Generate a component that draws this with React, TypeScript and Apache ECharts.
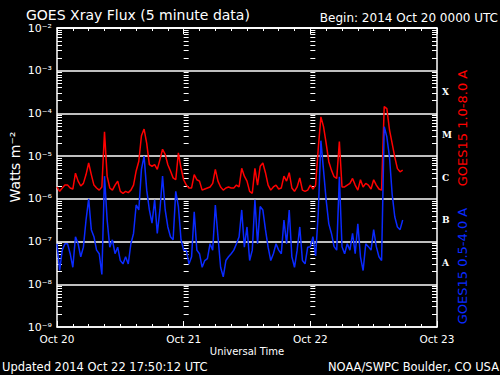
import { useEffect, useRef } from "react";
import * as echarts from "echarts";

// Sampling of the two GOES-15 channels (hours since 2014 Oct 20 00:00 UTC)
const sampleStartHour = 0;
const sampleStepHours = 0.5;

const dayLabels = ["Oct 20", "Oct 21", "Oct 22", "Oct 23"];
const classLetters = ["X", "M", "C", "B", "A"];
const classCenters = [-3.5, -4.5, -5.5, -6.5, -7.5];

// GOES15 1.0-8.0 A (W m^-2)
const redFlux = [
  1.9e-6, 1.5e-6, 1.8e-6, 2.1e-6, 2.1e-6, 1.8e-6, 1.7e-6, 4.0e-6, 2.6e-6, 2.0e-6,
  2.3e-6, 3.7e-6, 6.9e-6, 3.7e-6, 2.1e-6, 1.8e-6, 1.6e-6, 1.9e-6, 3.7e-5, 3.4e-6,
  1.8e-6, 1.6e-6, 2.1e-6, 2.6e-6, 1.5e-6, 1.35e-6, 1.5e-6, 1.4e-6, 1.6e-6, 2.1e-6,
  4.5e-6, 7.6e-6, 3.0e-5, 4.3e-5, 2.0e-5, 6.3e-6, 5.8e-6, 6.3e-6, 4.9e-6, 8.3e-6,
  1.45e-5, 1.1e-5, 6.3e-6, 4.5e-6, 3.1e-6, 2.8e-6, 1.2e-5, 5.2e-6,
  2.8e-6, 2.1e-6, 1.8e-6, 1.8e-6, 3.7e-6, 2.8e-6, 2.6e-6, 1.6e-6, 1.7e-6, 1.8e-6,
  1.9e-6, 2.3e-6, 4.9e-6, 2.6e-6, 1.9e-6, 1.6e-6, 1.8e-6, 1.9e-6, 1.8e-6, 1.8e-6,
  2.1e-6, 1.9e-6, 5.2e-6, 3.4e-6, 2.6e-6, 1.5e-6, 1.35e-6, 5.2e-6, 2.1e-6, 5.8e-6,
  6.9e-6, 4.1e-6, 2.1e-6, 1.6e-6, 1.9e-6, 2.1e-6, 1.7e-6, 1.8e-6, 3.4e-6, 2.6e-6,
  4.1e-6, 1.8e-6, 1.5e-6, 1.9e-6, 3.1e-6, 1.6e-6, 1.5e-6, 1.6e-6,
  2.1e-6, 1.7e-6, 2.1e-6, 1.5e-5, 8.3e-5, 4.9e-5, 2.0e-5, 7.4e-6, 4.7e-6, 3.3e-6,
  3.0e-6, 2.2e-5, 1.9e-6, 1.9e-6, 2.1e-6, 2.3e-6, 3.0e-6, 2.1e-6, 1.6e-6, 2.8e-6,
  1.9e-6, 2.3e-6, 2.1e-6, 1.7e-6, 2.8e-6, 2.1e-6, 1.7e-6, 1.6e-6, 1.45e-4, 1.3e-4,
  4.1e-5, 2.0e-5, 9.5e-6, 5.1e-6, 4.3e-6, 4.7e-6,
];

// GOES15 0.5-4.0 A (W m^-2)
const blueFlux = [
  8.9e-8, 2.1e-8, 6.3e-8, 8.9e-8, 8.9e-8, 5.2e-8, 2.5e-8, 1.3e-7, 8.9e-8, 4.4e-8,
  7.4e-8, 3.2e-7, 1.0e-6, 1.9e-7, 1.3e-7, 6.3e-8, 5.2e-8, 1.7e-8, 3.4e-6, 3.2e-7,
  7.4e-8, 1.1e-7, 5.2e-8, 7.4e-8, 3.6e-8, 3.0e-8, 4.4e-8, 3.0e-8, 8.9e-8, 1.55e-7,
  7.2e-7, 5.5e-7, 4.9e-6, 1.0e-5, 1.6e-6, 5.5e-7, 2.7e-7, 9.5e-7, 1.55e-7, 5.5e-7,
  3.4e-6, 5.5e-7, 2.2e-7, 1.3e-7, 1.1e-7, 1.5e-6, 6.6e-7, 1.1e-7,
  6.3e-8, 6.3e-8, 3.0e-8, 4.4e-8, 5.0e-7, 6.3e-8, 5.2e-8, 2.5e-8, 3.6e-8, 4.0e-8,
  8.9e-8, 6.3e-8, 7.2e-7, 1.3e-7, 2.5e-8, 1.5e-8, 3.6e-8, 4.4e-8, 5.2e-8, 6.3e-8,
  8.9e-8, 1.3e-7, 5.5e-7, 7.4e-8, 2.2e-7, 3.6e-8, 6.3e-8, 9.5e-7, 8.9e-8, 6.6e-7,
  5.5e-7, 1.9e-7, 7.4e-8, 3.6e-8, 5.2e-8, 8.9e-8, 6.3e-8, 5.2e-8, 3.2e-7, 8.9e-8,
  5.5e-7, 4.4e-8, 2.5e-8, 6.3e-8, 2.2e-7, 3.6e-8, 3.0e-8, 7.4e-8,
  7.6e-8, 1.3e-7, 4.6e-8, 4.6e-7, 2.3e-5, 4.7e-6, 9.3e-7, 2.6e-7, 1.55e-7, 7.6e-8,
  6.3e-8, 3.3e-6, 7.6e-8, 5.2e-8, 8.9e-8, 6.3e-8, 1.55e-7, 5.2e-8, 2.6e-7, 4.4e-8,
  2.1e-8, 8.9e-8, 7.6e-8, 6.3e-8, 1.9e-7, 7.6e-8, 4.4e-8, 3.6e-8, 4.9e-5, 2.8e-5,
  9.5e-6, 1.3e-6, 3.8e-7, 2.2e-7, 1.9e-7, 3.2e-7,
];

const SUP: Record<string, string> = {
  "-": "\u207B", "0": "\u2070", "1": "\u00B9", "2": "\u00B2", "3": "\u00B3",
  "4": "\u2074", "5": "\u2075", "6": "\u2076", "7": "\u2077", "8": "\u2078", "9": "\u2079",
};
const sup = (s: string) => s.split("").map((c) => SUP[c] ?? c).join("");

const FONT = "DejaVu Sans";
const RED = "#ff0000";
const BLUE = "#0a2aff";

export default function App() {
  const ref = useRef<HTMLDivElement>(null);

  useEffect(() => {
    if (!ref.current) return;
    const chart = echarts.init(ref.current, undefined, { renderer: "svg" });

    const toPairs = (arr: number[]) =>
      arr.map((v, i) => [sampleStartHour + i * sampleStepHours, v]);

    const minorLogs: number[] = [];
    for (let n = -9; n < -2; n++) {
      for (let k = 2; k <= 9; k++) minorLogs.push(n + Math.log10(k));
    }

    const gridLeft = 57;
    const gridWidth = 380;

    const tickAxis = (extra: any) => ({
      type: "value",
      min: -9,
      max: -2,
      axisLine: { show: false },
      axisLabel: { show: false },
      splitLine: { show: false },
      axisTick: {
        show: true,
        inside: true,
        length: 5,
        customValues: minorLogs,
        lineStyle: { color: "#ffffff", width: 1 },
      },
      ...extra,
    });

    const xCommon = {
      type: "value",
      min: 0,
      max: 72,
      interval: 24,
      splitLine: { show: false },
      axisLine: { show: true, lineStyle: { color: "#ffffff", width: 1.5 } },
      axisTick: { show: true, inside: true, length: 6, lineStyle: { color: "#ffffff" } },
      minorTick: { show: true, splitNumber: 8, length: 3, lineStyle: { color: "#ffffff" } },
      minorSplitLine: { show: false },
    };

    chart.setOption({
      animation: false,
      backgroundColor: "#000000",
      grid: {
        left: gridLeft,
        top: 28,
        width: gridWidth,
        height: 299,
        containLabel: false,
        outerBoundsMode: "none",
      },
      xAxis: [
        {
          ...xCommon,
          position: "bottom",
          axisLabel: {
            color: "#ffffff",
            fontFamily: FONT,
            fontSize: 10.5,
            margin: 6,
            formatter: (v: number) => dayLabels[Math.round(v / 24)] ?? "",
          },
        },
        {
          ...xCommon,
          position: "top",
          axisLabel: { show: false },
        },
      ],
      yAxis: [
        {
          type: "log",
          logBase: 10,
          min: 1e-9,
          max: 1e-2,
          position: "left",
          axisLine: { show: true, lineStyle: { color: "#ffffff", width: 1.5 } },
          axisTick: { show: false },
          minorTick: { show: false },
          axisLabel: {
            color: "#ffffff",
            fontFamily: FONT,
            fontSize: 11,
            margin: 5,
            formatter: (v: number) => "10" + sup(String(Math.round(Math.log10(v)))),
          },
          splitLine: { show: true, lineStyle: { color: "#ffffff", width: 1.5 } },
        },
        tickAxis({ position: "left" }),
        tickAxis({ position: "left", offset: -gridWidth / 3 }),
        tickAxis({ position: "left", offset: (-2 * gridWidth) / 3 }),
        tickAxis({
          position: "right",
          axisLine: { show: true, lineStyle: { color: "#ffffff", width: 1.5 } },
          axisLabel: {
            show: true,
            customValues: classCenters,
            color: "#ffffff",
            fontFamily: "DejaVu Serif",
            fontWeight: "bold",
            fontSize: 9,
            margin: 5,
            formatter: (v: number) => {
              const i = classCenters.findIndex((c) => Math.abs(c - v) < 1e-6);
              return i >= 0 ? classLetters[i] : "";
            },
          },
        }),
      ],
      series: [
        {
          name: "GOES15 1.0-8.0 A",
          type: "line",
          xAxisIndex: 0,
          yAxisIndex: 0,
          data: toPairs(redFlux),
          showSymbol: false,
          lineStyle: { color: RED, width: 1.5 },
          itemStyle: { color: RED },
          z: 3,
        },
        {
          name: "GOES15 0.5-4.0 A",
          type: "line",
          xAxisIndex: 0,
          yAxisIndex: 0,
          data: toPairs(blueFlux),
          showSymbol: false,
          lineStyle: { color: BLUE, width: 1.5 },
          itemStyle: { color: BLUE },
          z: 4,
        },
      ],
      graphic: [
        {
          type: "text",
          x: 26,
          y: 15,
          style: {
            text: "GOES Xray Flux (5 minute data)",
            fill: "#ffffff",
            fontFamily: FONT,
            fontSize: 14,
            align: "left",
            verticalAlign: "middle",
          },
        },
        {
          type: "text",
          x: 498,
          y: 18,
          style: {
            text: "Begin: 2014 Oct 20 0000 UTC",
            fill: "#ffffff",
            fontFamily: FONT,
            fontSize: 12,
            align: "right",
            verticalAlign: "middle",
          },
        },
        {
          type: "text",
          x: 15,
          y: 167,
          rotation: Math.PI / 2,
          style: {
            text: "Watts m" + sup("-2"),
            fill: "#ffffff",
            fontFamily: FONT,
            fontSize: 14,
            align: "center",
            verticalAlign: "middle",
          },
        },
        {
          type: "text",
          x: 247,
          y: 351,
          style: {
            text: "Universal Time",
            fill: "#ffffff",
            fontFamily: FONT,
            fontSize: 10,
            align: "center",
            verticalAlign: "middle",
          },
        },
        {
          type: "text",
          x: 2,
          y: 367,
          style: {
            text: "Updated 2014 Oct 22 17:50:12 UTC",
            fill: "#ffffff",
            fontFamily: FONT,
            fontSize: 11.5,
            align: "left",
            verticalAlign: "middle",
          },
        },
        {
          type: "text",
          x: 499,
          y: 367,
          style: {
            text: "NOAA/SWPC Boulder, CO USA",
            fill: "#ffffff",
            fontFamily: FONT,
            fontSize: 11.5,
            align: "right",
            verticalAlign: "middle",
          },
        },
        {
          type: "text",
          x: 462,
          y: 128,
          rotation: Math.PI / 2,
          style: {
            text: "GOES15 1.0-8.0 A",
            fill: RED,
            fontFamily: FONT,
            fontSize: 13,
            align: "center",
            verticalAlign: "middle",
          },
        },
        {
          type: "text",
          x: 462,
          y: 266,
          rotation: Math.PI / 2,
          style: {
            text: "GOES15 0.5-4.0 A",
            fill: BLUE,
            fontFamily: FONT,
            fontSize: 13,
            align: "center",
            verticalAlign: "middle",
          },
        },
      ],
    });

    return () => chart.dispose();
  }, []);

  return (
    <div
      ref={ref}
      style={{ position: "fixed", left: 0, top: 0, width: 500, height: 375 }}
    />
  );
}
